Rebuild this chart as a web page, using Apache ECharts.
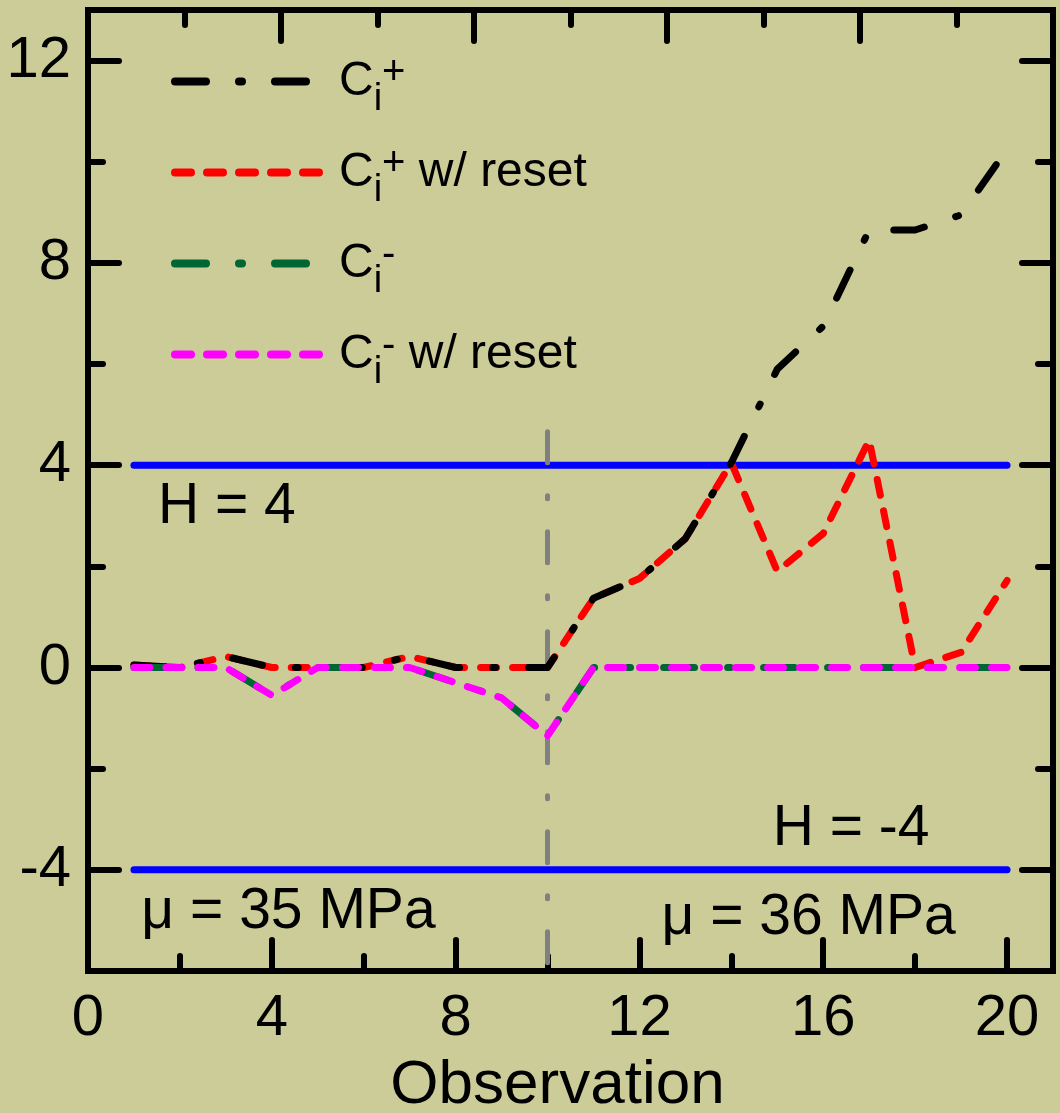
<!DOCTYPE html>
<html>
<head>
<meta charset="utf-8">
<script src="https://cdn.jsdelivr.net/npm/echarts@6/dist/echarts.min.js"></script>
<style>
  html, body { margin: 0; padding: 0; background: #CCCC99; }
  #chart { width: 1060px; height: 1113px; }
</style>
</head>
<body>
<div id="chart"></div>
<script>
// CUSUM statistics per observation
const observations = [1, 2, 3, 4, 5, 6, 7, 8, 9, 10, 11, 12, 13, 14, 15, 16, 17, 18, 19, 20];
const cPlus        = [0.05, 0, 0.22, 0, 0, 0, 0.22, 0, 0, 0, 1.37, 1.76, 2.55, 4.05, 5.9, 6.75, 8.65, 8.65, 8.95, 10.25];
const cPlusReset   = [0.05, 0, 0.22, 0, 0, 0, 0.22, 0, 0, 0, 1.37, 1.76, 2.55, 4.05, 1.9, 2.65, 4.5, 0, 0.3, 1.72];
const cMinus       = [0, 0, 0, -0.55, 0, 0, 0, -0.3, -0.6, -1.35, 0, 0, 0, 0, 0, 0, 0, 0, 0, 0];
const cMinusReset  = [0, 0, 0, -0.55, 0, 0, 0, -0.3, -0.6, -1.35, 0, 0, 0, 0, 0, 0, 0, 0, 0, 0];

// decision interval and process shift marker
const hUpper = 4;
const hLower = -4;
const shiftObservation = 10;
const shiftMarkerTop = 4.66;

// axis ticks
const xTicksMajor = [0, 4, 8, 12, 16, 20];
const xTicksMinor = [2, 6, 10, 14, 18];
const yTicksMajor = [-4, 0, 4, 8, 12];
const yTicksMinor = [-6, -2, 2, 6, 10];
const topTicksMajor = [2, 4, 6, 8];
const topTicksMinor = [1, 3, 5, 7, 9];

// text notes placed in data coordinates (left edge, vertical middle)
const notes = [
  { text: 'H = 4', x: 1.51, y: 3.16 },
  { text: 'H = -4', x: 14.89, y: -3.2 },
  { text: '\u03bc = 35 MPa', x: 1.15, y: -4.83 },
  { text: '\u03bc = 36 MPa', x: 12.47, y: -4.95 }
];

const FONT = '"Liberation Sans", Arial, sans-serif';
const INK = '#000000';

const pairs = (xs, ys) => xs.map((x, i) => [x, ys[i]]);

const dashDot = [31, 33, 3, 33];
const dashed = [16, 16];

const legendText = {
  'Ci+': '{c|C}{sub|i}{sup|+}',
  'Ci+ w/ reset': '{c|C}{sub|i}{sup|+}{t| w/ reset}',
  'Ci-': '{c|C}{sub|i}{sup|-}',
  'Ci- w/ reset': '{c|C}{sub|i}{sup|-}{t| w/ reset}'
};

function axisBase(extra) {
  return Object.assign({
    type: 'value',
    gridIndex: 0,
    splitLine: { show: false },
    axisLine: { show: false, onZero: false },
    axisLabel: { show: false },
    axisTick: { show: false }
  }, extra);
}

function ticks(values, len) {
  return {
    show: true, inside: true, length: len, customValues: values,
    lineStyle: { color: INK, width: 6, cap: 'round' }
  };
}

const frameLine = { show: true, onZero: false, lineStyle: { color: INK, width: 6, cap: 'square' } };

const chart = echarts.init(document.getElementById('chart'), null, { renderer: 'canvas' });

chart.setOption({
  backgroundColor: '#CCCC99',
  animation: false,
  grid: { left: 88, right: 7, top: 10, bottom: 142, containLabel: false, outerBoundsMode: 'none' },
  xAxis: [
    axisBase({
      position: 'bottom', min: 0, max: 21,
      axisLine: frameLine,
      axisTick: ticks(xTicksMajor, 31),
      axisLabel: {
        show: true, customValues: xTicksMajor, margin: 19,
        color: INK, fontSize: 58, fontFamily: FONT
      },
      name: 'Observation', nameLocation: 'middle', nameGap: 84,
      nameTextStyle: { color: INK, fontSize: 62, fontFamily: FONT, padding: [0, 26, 0, 0] }
    }),
    axisBase({ position: 'bottom', min: 0, max: 21, axisTick: ticks(xTicksMinor, 15) }),
    axisBase({ position: 'top', min: 0, max: 10, axisLine: frameLine, axisTick: ticks(topTicksMajor, 31) }),
    axisBase({ position: 'top', min: 0, max: 10, axisTick: ticks(topTicksMinor, 15) })
  ],
  yAxis: [
    axisBase({
      position: 'left', min: -6, max: 13,
      axisLine: frameLine,
      axisTick: ticks(yTicksMajor, 31),
      axisLabel: {
        show: true, customValues: yTicksMajor, margin: 17,
        color: INK, fontSize: 58, fontFamily: FONT
      }
    }),
    axisBase({ position: 'left', min: -6, max: 13, axisTick: ticks(yTicksMinor, 15) }),
    axisBase({ position: 'right', min: -6, max: 13, axisLine: frameLine, axisTick: ticks(yTicksMajor, 31) }),
    axisBase({ position: 'right', min: -6, max: 13, axisTick: ticks(yTicksMinor, 15) })
  ],
  legend: {
    orient: 'vertical', left: 171, top: 53, padding: 0,
    itemWidth: 150, itemHeight: 20, itemGap: 25,
    selectedMode: false,
    data: ['Ci+', 'Ci+ w/ reset', 'Ci-', 'Ci- w/ reset'],
    itemStyle: { opacity: 0 },
    lineStyle: { width: 8 },
    formatter: name => legendText[name],
    textStyle: {
      color: INK, fontFamily: FONT,
      rich: {
        c: { fontSize: 48, fontFamily: FONT, color: INK, padding: [0, 0, 0, 9] },
        sub: { fontSize: 38, fontFamily: FONT, color: INK, padding: [37, 0, 0, 0] },
        sup: { fontSize: 40, fontFamily: FONT, color: INK, padding: [0, 0, 17, 0] },
        t: { fontSize: 48, fontFamily: FONT, color: INK }
      }
    }
  },
  series: [
    {
      name: 'H upper', type: 'line', symbol: 'none', silent: true,
      data: [[observations[0], hUpper], [observations[observations.length - 1], hUpper]],
      lineStyle: { color: '#0000FF', width: 7, cap: 'round' }
    },
    {
      name: 'H lower', type: 'line', symbol: 'none', silent: true,
      data: [[observations[0], hLower], [observations[observations.length - 1], hLower]],
      lineStyle: { color: '#0000FF', width: 7, cap: 'round' }
    },
    {
      name: 'shift', type: 'line', symbol: 'none', silent: true,
      data: [[shiftObservation, shiftMarkerTop], [shiftObservation, -6]],
      lineStyle: { color: '#808080', width: 5, type: dashDot, cap: 'round' }
    },
    {
      name: 'Ci+ w/ reset', type: 'line', symbol: 'none',
      data: pairs(observations, cPlusReset),
      lineStyle: { color: '#FF0000', width: 7, type: dashed, cap: 'round', join: 'round' },
      itemStyle: { color: '#FF0000' }
    },
    {
      name: 'Ci+', type: 'line', symbol: 'none',
      data: pairs(observations, cPlus),
      lineStyle: { color: '#000000', width: 7, type: dashDot, cap: 'round', join: 'round' },
      itemStyle: { color: '#000000' }
    },
    {
      name: 'Ci-', type: 'line', symbol: 'none',
      data: pairs(observations, cMinus),
      lineStyle: { color: '#006633', width: 7, type: dashDot, cap: 'round', join: 'round' },
      itemStyle: { color: '#006633' }
    },
    {
      name: 'Ci- w/ reset', type: 'line', symbol: 'none',
      data: pairs(observations, cMinusReset),
      lineStyle: { color: '#FF00FF', width: 7, type: dashed, cap: 'round', join: 'round' },
      itemStyle: { color: '#FF00FF' }
    },
    {
      name: 'notes', type: 'scatter', symbolSize: 1, silent: true,
      itemStyle: { color: 'rgba(0,0,0,0)', opacity: 1 },
      data: notes.map(n => ({ value: [n.x, n.y], name: n.text })),
      label: {
        show: true, position: 'right', distance: 0, opacity: 1,
        formatter: p => p.name,
        color: INK, fontSize: 57, fontFamily: FONT
      }
    }
  ]
});
</script>
</body>
</html>
